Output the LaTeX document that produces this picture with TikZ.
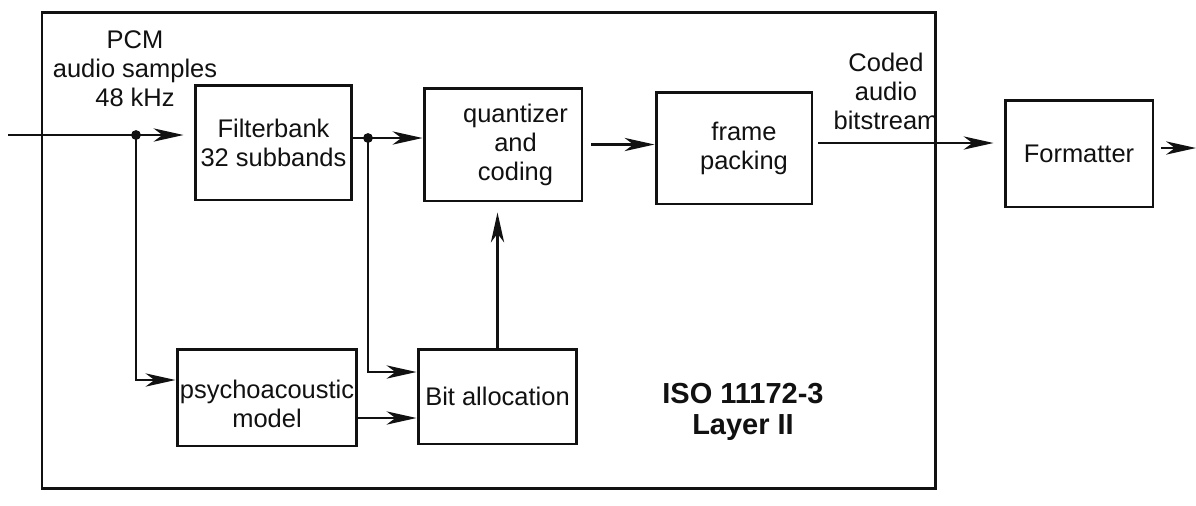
\documentclass[tikz,border=0pt]{standalone}
\usepackage{fontspec}
\setmainfont{Liberation Sans}
\usetikzlibrary{positioning, arrows.meta}
\definecolor{scanBlack}{HTML}{111111}

\tikzset{
  blk/.style={draw=scanBlack, line width=1.7pt, align=center, inner sep=0pt},
  flow/.style={draw=scanBlack, line width=1.6pt, -{Stealth[length=17pt, width=7.5pt, inset=5pt]}},
  wire/.style={draw=scanBlack, line width=1.6pt},
}

\begin{document}
\begin{tikzpicture}[x=0.02cm, y=-0.02cm, font=\fontsize{14.5}{16.5}\selectfont, text=scanBlack]
    \useasboundingbox (0,0) rectangle (1196,505);
    % encoder frame
    \draw[wire, line width=1.7pt] (42,12) rectangle (935,488);

    \node[blk, minimum width=3.14cm, minimum height=2.3cm] (filt) at (273.5,142.5) {Filterbank\\32 subbands};
    \node[blk, minimum width=3.16cm, minimum height=2.26cm] (quant) at (503,144.5) {\hspace*{0.5cm}quantizer\\\hspace*{0.5cm}and\\\hspace*{0.5cm}coding};
    \node[blk, minimum width=3.12cm, minimum height=2.24cm] (frame) at (734,148) {\hspace*{0.4cm}frame\\\hspace*{0.4cm}packing};
    \node[blk, minimum width=2.96cm, minimum height=2.14cm] (fmt) at (1079,153.5) {Formatter};
    \node[blk, minimum width=3.6cm, minimum height=1.94cm] (psycho) at (267,397.5) {\rule{0pt}{1.2em}psychoacoustic\\model};
    \node[blk, minimum width=3.18cm, minimum height=1.9cm] (bit) at (497.5,396.5) {Bit allocation};

    \node[align=center] (pcm) at (135,69) {PCM\\audio samples\\48 kHz};
    \node[align=center] (coded) at (886,91) {Coded\\audio\\bitstream};
    \node[align=center, font=\fontsize{16.5}{18}\selectfont\bfseries] (iso) at (743,412) {ISO 11172-3\\Layer II};

    \coordinate (in) at (8,135);
    \coordinate (split1) at (136,135);
    \coordinate (split2) at (368,138);
    \coordinate (out) at (1196,148);

    % input and filterbank
    \draw[flow, shorten >=0.2cm] (in) -- (in -| filt.west);
    \draw[wire] (filt.east |- split2) -- (split2);
    \draw[flow] (split2) -- (split2 -| quant.west);
    \fill[scanBlack] (split1) circle[radius=2.8pt];
    \fill[scanBlack] (split2) circle[radius=2.8pt];

    % side chain
    \draw[flow] (split1) |- ([yshift=0.35cm]psycho.west);
    \draw[flow] (split2) |- ([yshift=0.49cm]bit.west);
    \draw[flow] ([yshift=-0.41cm]psycho.east) -- ([yshift=-0.41cm]psycho.east -| bit.west);
    \draw[flow, shorten >=0.2cm] (bit.north) -- (bit.north |- quant.south);

    % output
    \draw[flow, shorten <=0.16cm] (quant.east) -- (quant.east -| frame.west);
    \draw[flow, shorten <=0.1cm, shorten >=0.2cm] ([yshift=0.1cm]frame.east) -- ([yshift=0.1cm]frame.east -| fmt.west);
    \draw[flow, shorten <=0.14cm] (fmt.east |- out) -- (out);
\end{tikzpicture}
\end{document}
